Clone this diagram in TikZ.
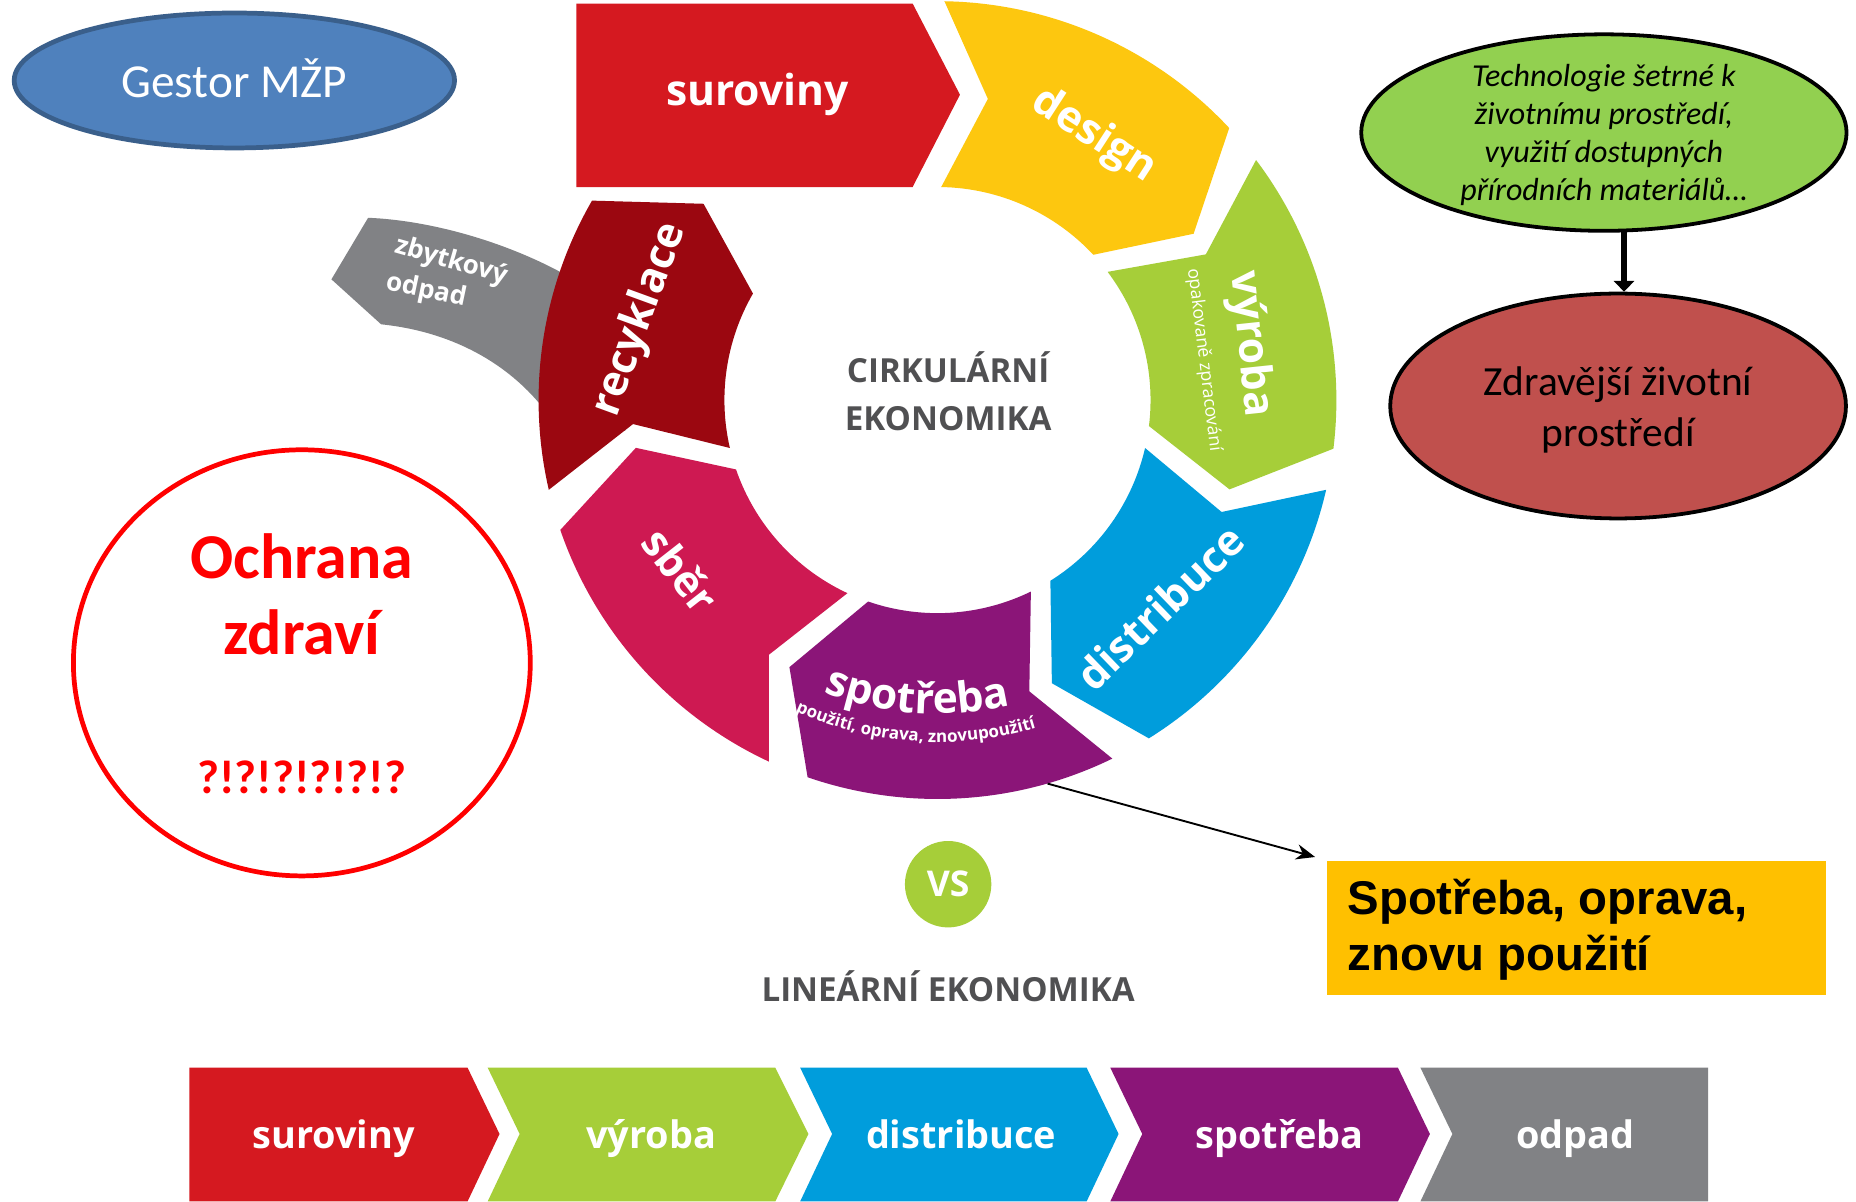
\documentclass[tikz,border=0pt]{standalone}
\usepackage{fontspec}
\setmainfont{Carlito}
\newfontfamily\osans{Open Sans}
\newfontfamily\carl{Carlito}
\newfontfamily\arl{Liberation Sans}
\usetikzlibrary{shapes.geometric,arrows.meta,decorations.text,calc}
\definecolor{cSur}{HTML}{D51920}
\definecolor{cDes}{HTML}{FDC70F}
\definecolor{cVyr}{HTML}{A6CE39}
\definecolor{cDis}{HTML}{009DDC}
\definecolor{cSpo}{HTML}{8B1578}
\definecolor{cSbe}{HTML}{CE1952}
\definecolor{cRec}{HTML}{9B0710}
\definecolor{cOdp}{HTML}{818285}
\definecolor{cTxt}{HTML}{505052}
\definecolor{gBlue}{HTML}{4F81BD}
\definecolor{gBlueB}{HTML}{3A5F8B}
\definecolor{gGreen}{HTML}{92D050}
\definecolor{gRed}{HTML}{C0504D}
\definecolor{gOrange}{HTML}{FFC000}
\definecolor{pureRed}{HTML}{FF0000}
\newcommand\rOut{337}
\newcommand\rIn{180}
\newcommand\rMid{258}
\newcommand\ringseg[3]{\fill[#1] (#2:\rOut) arc[start angle=#2, end angle=#3, radius=\rOut] -- ({#3+10}:\rMid) -- (#3:\rIn) arc[start angle=#3, end angle=#2, radius=\rIn] -- ({#2+8.5}:\rMid) -- cycle;}
\begin{document}
\begin{tikzpicture}[x=0.5pt,y=-0.5pt,
  ringtxt/.style={text=white, inner sep=0, font=\osans\bfseries\fontsize{18}{20}\selectfont},
  subtxt/.style={text=white, inner sep=0, font=\osans\fontsize{7.5}{9}\selectfont},
  smalltxt/.style={text=white, inner sep=0, font=\osans\bfseries\fontsize{11}{13}\selectfont},
  chevtxt/.style={text=white, inner sep=0, anchor=base, font=\osans\bfseries\fontsize{16}{18}\selectfont},
  headtxt/.style={text=cTxt, inner sep=0, anchor=base, font=\osans\bfseries\fontsize{14}{16}\selectfont},
  ochtxt/.style={text=pureRed, inner sep=0, anchor=base, font=\carl\bfseries\fontsize{27}{32}\selectfont},
  reusetxt/.style={text=black, inner sep=0, anchor=base west, font=\arl\bfseries\fontsize{20}{23}\selectfont}]
\useasboundingbox (0,0) rectangle (1568,1015);
\fill[white] (0,0) rectangle (1568,1015);

% ---------- circular economy ----------
\fill[cOdp] (311,184) .. controls (360,186) and (420,202) .. (470,228) -- (500,245) -- (560,300) -- (528,364) -- (455,340) .. controls (425,305) and (380,280) .. (322,274) -- (280,236) -- cycle;
\fill[cSur] (487,3) -- (771,3) -- (811,80) -- (771,158) -- (487,158) -- cycle;
\begin{scope}[shift={(792,338)}]
\ringseg{cDes}{-89}{-43}
\ringseg{cVyr}{-37}{7}
\ringseg{cDis}{13}{58}
\ringseg{cSpo}{64}{109}
\ringseg{cSbe}{115}{161}
\ringseg{cRec}{167}{210}
\path[decorate, decoration={text along path, text align=center, text color=white,
  text={|\osans\bfseries\fontsize{18}{20}\selectfont|spotřeba}}]
  (123.9:265) arc[start angle=123.9, end angle=63.9, radius=265];
\path[decorate, decoration={text along path, text align=center, text color=white,
  text={|\osans\bfseries\fontsize{7.2}{9}\selectfont|použití, oprava, znovupoužití}}]
  (123.9:289) arc[start angle=123.9, end angle=63.9, radius=289];
\end{scope}

\node[ringtxt, anchor=base] (tSur) at (640,89) {suroviny};
\node[ringtxt, rotate=-33] (tDes) at (924,115) {design};
\node[ringtxt, rotate=-84] (tVyr) at (1056,291) {výroba};
\node[subtxt, rotate=-83] (tVyrS) at (1017,304) {opakovaně zpracování};
\node[ringtxt, rotate=44] (tDis) at (980,513) {distribuce};
\node[ringtxt, rotate=-52] (tSbe) at (575,482) {sběr};
\node[ringtxt, rotate=70] (tRec) at (541,270) {recyklace};
\node[smalltxt, rotate=-16] (tZb1) at (381,221) {zbytkový};
\node[smalltxt, rotate=-12] (tZb2) at (360,246) {odpad};
\node[headtxt] (cirk1) at (801,323) {CIRKULÁRNÍ};
\node[headtxt] (cirk2) at (801,364) {EKONOMIKA};

% ---------- VS and linear economy ----------
\node[circle, fill=cVyr, minimum size=36.5pt, inner sep=0, text=white,
  font=\osans\bfseries\fontsize{15}{15}\selectfont] (vs) at (801,747) {VS};
\node[headtxt] (lin) at (801,846) {LINEÁRNÍ EKONOMIKA};

\fill[cSur] (160,902) -- (395,902) -- (422,958) -- (395,1015) -- (160,1015) -- cycle;
\fill[cVyr] (412,902) -- (655,902) -- (683,958) -- (655,1015) -- (412,1015) -- (439,958) -- cycle;
\fill[cDis] (676,902) -- (918,902) -- (945,958) -- (918,1015) -- (676,1015) -- (703,958) -- cycle;
\fill[cSpo] (938,902) -- (1181,902) -- (1208,958) -- (1181,1015) -- (938,1015) -- (965,958) -- cycle;
\fill[cOdp] (1200,902) -- (1443,902) -- (1443,1015) -- (1200,1015) -- (1227,958) -- cycle;
\node[chevtxt] (lSur) at (282,970) {suroviny};
\node[chevtxt] (lVyr) at (550,970) {výroba};
\node[chevtxt] (lDis) at (812,970) {distribuce};
\node[chevtxt] (lSpo) at (1081,970) {spotřeba};
\node[chevtxt] (lOdp) at (1331,970) {odpad};

% ---------- left side ----------
\node[ellipse, fill=gBlue, draw=gBlueB, line width=2pt, minimum width=186pt, minimum height=57pt, inner sep=0] (gestor) at (198,68) {};
\node[text=white, inner sep=0, anchor=base, font=\carl\fontsize{20}{24}\selectfont] (gestortxt) at (198,82) {Gestor MŽP};

\node[ellipse, draw=pureRed, line width=2pt, minimum width=193pt, minimum height=180pt, inner sep=0] (ochr) at (255,560) {};
\node[ochtxt] (och1) at (255,489) {Ochrana};
\node[ochtxt] (och2) at (255,553) {zdraví};
\node[ochtxt, font=\carl\bfseries\fontsize{20}{24}\selectfont] (och3) at (255,670) {?!?!?!?!?!?};

% ---------- right side ----------
\node[ellipse, fill=gGreen, draw=black, line width=1.6pt, minimum width=205pt, minimum height=83pt, inner sep=0] (tech) at (1355,112) {};
\node[align=center, inner sep=0, font=\carl\itshape\fontsize{13.5}{16}\selectfont] (techtxt) at (1355,114) {Technologie šetrné k\\životnímu prostředí,\\využití dostupných\\přírodních materiálů…};
\node[ellipse, fill=gRed, draw=black, line width=1.6pt, minimum width=192.5pt, minimum height=95pt, inner sep=0] (zdrav) at (1367,343) {};
\node[align=center, inner sep=0, font=\carl\fontsize{17.5}{21.5}\selectfont] (zdravtxt) at (1367,346) {Zdravější životní\\prostředí};
\draw[line width=2.8pt, -{Triangle[length=4.5pt,width=8.5pt]}] ($(tech.south)+(17,-2)$) -- ($(zdrav.north)+(5,0)$);

\node[fill=gOrange, minimum width=210.5pt, minimum height=56.5pt, inner sep=0, anchor=north west] (reuse) at (1121,727) {};
\node[reusetxt] (reuse1) at (1138,773) {Spotřeba, oprava,};
\node[reusetxt] (reuse2) at (1138,820) {znovu použití};
\coordinate (spotout) at (885,662);
\draw[line width=0.8pt, -{Stealth[length=8pt,width=6.5pt]}] (spotout) -- ($(reuse.north west)+(-10,-3)$);
\end{tikzpicture}
\end{document}
